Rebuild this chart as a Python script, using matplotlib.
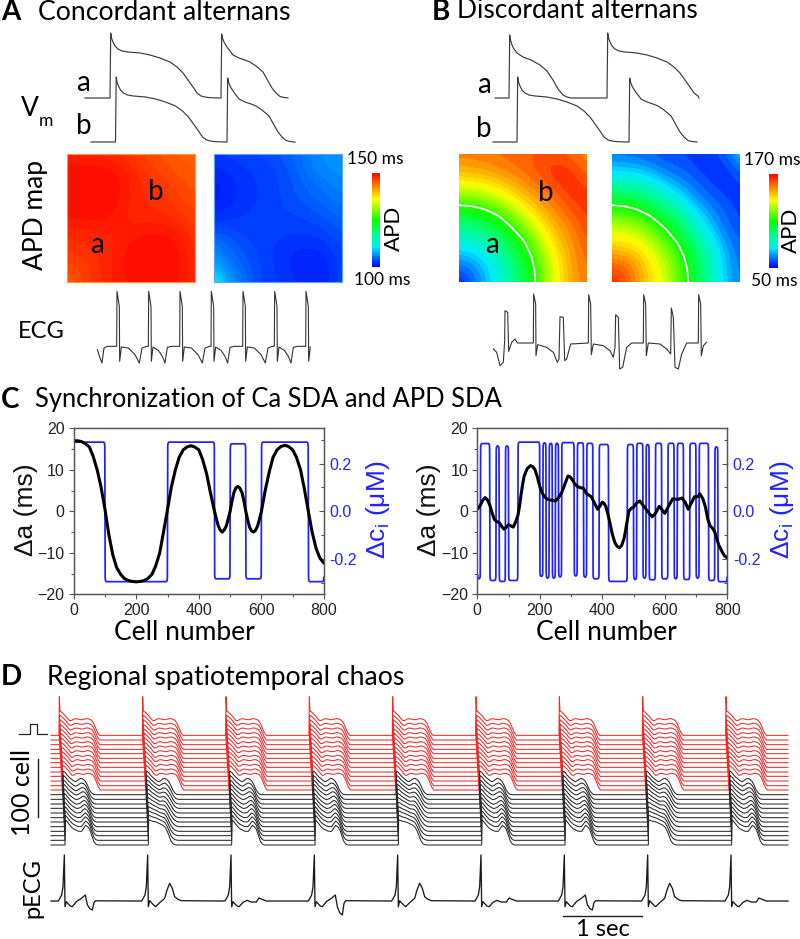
import numpy as np
import matplotlib
matplotlib.use("Agg")
import matplotlib.pyplot as plt
from matplotlib.colors import LinearSegmentedColormap, Normalize, BoundaryNorm
from matplotlib.cm import ScalarMappable
from matplotlib.ticker import FixedLocator

W, H = 800, 939
TITLE_FONT = ['Lato', 'DejaVu Sans']
ARIAL = ['Liberation Sans', 'DejaVu Sans']
plt.rcParams['font.family'] = TITLE_FONT
plt.rcParams['mathtext.default'] = 'regular'

# ---------- data: action potentials (time, height) ----------
AP_LONG_T = [0, 0.7, 1.5, 3, 5, 8, 12, 18, 30, 40, 50, 60, 67, 73, 78, 83, 87, 91, 95, 100, 110]
AP_LONG_V = [0, 65, 60, 56, 52, 49, 47, 46, 45, 43, 40, 36, 31, 25, 18, 11, 5, 2, 1, 0.3, 0]
AP_SHORT_T = [0, 0.7, 1.5, 3, 6, 9, 12, 18, 24, 29, 35, 42, 47, 51, 55, 59, 63, 67]
AP_SHORT_V = [0, 64, 60, 56, 51, 47, 43, 40, 38, 36, 32, 26, 17, 10, 5, 1.5, 0.5, 0]
AP_SHORTER_T = [0, 0.7, 1.5, 3, 5, 8, 14, 22, 31, 38, 44, 49, 54, 58, 62]
AP_SHORTER_V = [0, 63, 58, 53, 49, 45, 41, 38, 33, 27, 18, 9, 3, 1, 0]

# ---------- data: ECG panel A ----------
ECG_A_ONSETS = [350, 445, 539, 633, 728, 823, 917]
ECG_A_LEAD_T = [292, 300, 306, 312, 322]
ECG_A_LEAD_V = [-10, -35, -50, -5, 0]
ECG_A_QRS_T = [0, 1, 8, 9, 14]
ECG_A_QRS_V = [0, 165, 120, -45, -2]
ECG_A_TW1_T = [35, 55, 68, 76, 90]
ECG_A_TW1_V = [-5, -25, -50, -5, 0]
ECG_A_TW2_T = [30, 42, 50, 57, 70]
ECG_A_TW2_V = [-12, -30, -50, -3, 0]

# ---------- data: ECG panel B ----------
ECG_B_T = [280, 290, 300, 310, 314, 315, 323, 326, 335, 345, 352, 400, 401, 407, 408, 413, 440, 460, 472,
           477, 480, 490, 494, 500, 512, 565, 566, 572, 574, 580, 610, 630, 640, 645, 647, 655, 659, 668,
           680, 695, 730, 731, 737, 739, 745, 780, 800, 812, 814, 820, 825, 835, 845, 860, 895, 896, 902,
           904, 910, 920]
ECG_B_V = [1045, 1055, 1095, 1085, 1020, 930, 935, 1052, 1025, 1015, 1027, 1027, 880, 910, 1065, 1032,
           1040, 1055, 1085, 1075, 948, 950, 1080, 1075, 1030, 1027, 882, 910, 1062, 1030, 1035, 1050,
           1070, 1040, 942, 950, 1105, 1100, 1040, 1027, 1027, 882, 910, 1065, 1027, 1030, 1045, 1060,
           922, 950, 1100, 1105, 1060, 1027, 1027, 882, 910, 1065, 1035, 1025]

# ---------- data: APD maps (rows bottom to top) ----------
MAP_A_LONG = [
    [145.5, 147, 148, 149, 149.5, 149.5, 149.5, 149.5, 148],
    [146.5, 147, 148, 149, 149.8, 150, 150, 149.7, 148],
    [147.5, 148, 148.3, 148.8, 149.8, 150, 150, 149.6, 147.7],
    [148.3, 148.3, 148.5, 148.7, 149, 149.5, 149.5, 149, 147.5],
    [149.5, 149.6, 149.6, 149.2, 148.5, 148.5, 148.3, 147.8, 147],
    [150, 150, 150, 149.7, 148.5, 148, 147.8, 147, 146.5],
    [150, 150, 150, 149.8, 148.7, 148, 147.3, 146.5, 146],
    [149.8, 149.8, 149.8, 149.5, 148.5, 147.3, 146.5, 146, 145.5],
    [148.7, 148.7, 148.5, 148, 147.5, 146.5, 146, 145.5, 145]]
MAP_A_SHORT = [
    [112, 107, 104.5, 103, 102.5, 102, 101.5, 101.5, 103],
    [108, 105.5, 104, 103, 102.3, 101.6, 101.2, 101.4, 103],
    [106, 104.5, 103.5, 102.8, 102.3, 101.8, 101.7, 102, 103.2],
    [104, 103.5, 103, 102.8, 102.6, 102.5, 102.5, 102.8, 103.8],
    [102, 102.3, 102.6, 102.8, 103, 103, 103.3, 103.8, 104.5],
    [101, 101.7, 102.2, 102.6, 103, 103.5, 104, 104.7, 105.3],
    [100.8, 101.6, 102.2, 102.6, 103, 103.8, 104.7, 105.3, 106],
    [101.5, 102, 102.4, 102.7, 103.2, 104, 105.5, 106.3, 106.5],
    [102.5, 102.7, 103, 103.2, 103.7, 104.5, 105.7, 106.5, 106.8]]
MAP_B_LEFT = [
    [52, 60, 68, 78, 88, 100, 114, 128, 141, 151, 156],
    [60, 63, 70, 80, 89, 101, 115, 129, 142, 152, 157],
    [68, 70, 76, 84, 94, 105, 118, 132, 143, 153, 158],
    [78, 80, 84, 90, 100, 111, 124, 136, 147, 154, 160],
    [88, 89, 94, 100, 110, 120, 131, 142, 150, 156, 162],
    [100, 101, 105, 111, 120, 129, 139, 148, 154, 159, 164],
    [114, 115, 118, 124, 131, 139, 147, 153, 158, 163, 165],
    [128, 129, 132, 136, 142, 148, 153, 157, 162, 166, 164],
    [141, 142, 143, 147, 150, 154, 158, 162, 166, 165, 161],
    [150, 151, 152, 154, 156, 158, 161, 164, 165, 162, 157],
    [155, 155, 156, 157, 158, 159, 160, 161, 160, 158, 154]]
MAP_B_RIGHT = [
    [166, 162, 152, 142, 134, 122, 110, 96, 82, 70, 62],
    [162, 160, 151, 141, 133, 121, 109, 95, 81, 69, 62],
    [152, 151, 146, 138, 129, 118, 106, 92, 80, 68, 61],
    [142, 141, 138, 131, 122, 112, 101, 88, 76, 65, 60],
    [134, 133, 129, 122, 114, 103, 92, 80, 70, 62, 58],
    [122, 121, 118, 112, 103, 96, 85, 74, 65, 60, 56],
    [110, 109, 106, 101, 92, 85, 75, 66, 62, 58, 55],
    [96, 95, 92, 88, 80, 74, 66, 62, 58, 55, 55],
    [82, 81, 80, 76, 70, 65, 62, 58, 55, 54, 58],
    [70, 69, 68, 65, 62, 60, 58, 55, 54, 56, 62],
    [62, 62, 61, 60, 58, 57, 56, 55, 56, 60, 72]]
MAP_A_RANGE = (100, 150)
MAP_B_RANGE = (50, 170)
ARC_LEFT = 114
ARC_RIGHT = 110

# ---------- data: panel C ----------
C_LEFT_CELL = [0, 12, 25, 37, 50, 62, 75, 87, 100, 112, 125, 137, 150, 162, 175, 187, 200, 212, 225, 237, 250,
               262, 275, 287, 300, 312, 325, 337, 350, 362, 375, 387, 400, 412, 425, 437, 450, 456, 462, 468,
               475, 481, 488, 494, 500, 506, 512, 518, 525, 531, 538, 544, 550, 556, 562, 568, 575, 581, 588,
               594, 600, 612, 625, 637, 650, 662, 675, 687, 700, 712, 725, 737, 750, 762, 775, 787, 800]
C_LEFT_DA = [17, 17, 16.8, 16.3, 15.5, 13.3, 10, 6, 0.5, -5.5, -10.5, -13.5, -15.2, -16.2, -16.7, -16.9, -17, -16.9,
             -16.7, -16.2, -15.2, -13.2, -10, -5, 0.5, 5.8, 10, 13, 14.8, 15.5, 15.8, 15.5, 14.8, 12.5, 9, 4.5, 0,
             -1.8, -3.5, -4.5, -5, -4.5, -3.5, -1.8, 0, 2.5, 4.5, 5.6, 6, 5.6, 4.5, 2.5, 0, -2, -3.8, -4.7, -5,
             -4.6, -3.5, -1.8, 0, 5, 9.5, 13, 14.8, 15.6, 15.9, 15.6, 14.8, 13, 10, 5.5, 0, -5, -9, -11.3, -12.5]
C_LEFT_EDGES = [0, 100, 300, 450, 500, 550, 600, 750, 800]
C_LEFT_LEVELS = [.29, -.295, .29, -.283, .283, -.283, .29, -.295]

C_RIGHT_CELL = [0, 5, 10, 17, 25, 32, 40, 47, 55, 62, 70, 77, 85, 92, 100, 107, 115, 122, 130, 135, 140, 145, 150,
                160, 170, 177, 185, 192, 200, 207, 215, 225, 235, 250, 260, 270, 280, 290, 297, 305, 312, 320,
                330, 340, 350, 357, 365, 375, 385, 392, 400, 406, 412, 418, 425, 432, 440, 447, 455, 462, 470,
                477, 485, 492, 500, 510, 520, 530, 540, 550, 560, 570, 582, 590, 600, 612, 625, 632, 640, 647,
                655, 665, 675, 685, 695, 705, 712, 722, 730, 738, 745, 752, 760, 772, 785, 792, 800]
C_RIGHT_DA = [0.5, 1, 1.5, 2.6, 3.3, 2.8, 1.5, -0.3, -2, -2.5, -2.7, -3.5, -4.3, -3.9, -3.2, -3.5, -3.8, -2.7, -1,
              1.2, 4, 6.5, 8.5, 10.3, 11, 10.8, 10, 8.3, 6, 4.5, 3.5, 2.9, 2.7, 2.5, 3.3, 4.5, 6.5, 8.5, 8.3, 7.5,
              6.6, 6, 5.7, 5.5, 4.2, 3.9, 3.5, 2, 0.5, 1.2, 2.2, 1.9, 1, -0.7, -3, -5.5, -7.5, -8.4, -8.8, -8.2,
              -6.5, -3.5, 0, 0.7, 1, 2, 2.5, 1.5, 0.5, -0.5, -1.3, -0.5, 1.2, 0.5, -0.5, 1.2, 3, 3, 2.8, 3,
              3.2, 2.2, 0.5, 2, 3.5, 3.5, 4.2, 3, 1, -2, -3.5, -4, -5, -8, -10, -10.8, -11.2]
C_RIGHT_EDGES = [0, 10, 40, 60, 70, 90, 100, 130, 200, 210, 220, 230, 240, 250, 260, 270, 310, 320, 340, 350, 370,
                 390, 420, 480, 500, 510, 530, 540, 550, 570, 590, 610, 630, 640, 660, 680, 700, 710, 740, 760,
                 770, 800]
C_RIGHT_LEVELS = [-.283, .284, -.29, .274, -.294, .274, -.29, .29, -.273, .287, -.28, .285, -.28, .285, -.275, .288,
                  -.271, .287, -.276, .285, -.283, .28, -.294, .28, -.286, .285, -.28, .28, -.287, .285, -.283,
                  .285, -.283, .285, -.286, .285, -.28, .285, -.29, .27, -.295]
CELL_TICKS = [0, 200, 400, 600, 800]
CELL_MINOR = [100, 300, 500, 700]
DA_TICKS = [-20, -10, 0, 10, 20]
DA_MINOR = [-15, -5, 5, 15]
CA_TICKS = [-.2, 0, .2]
CA_MINOR = [-.3, -.1, .1, .3]

# ---------- data: panel D ----------
D_ONSETS = [24, 274, 524, 774, 1024, 1274, 1524, 1774, 2024]
D_END = 2211
D_OFFSET = [329, 315, 301, 287, 274, 260, 247, 233, 219, 206, 192, 178, 165,
            151, 137, 123, 110, 96, 82, 69, 55, 41, 28, 14, 0]
D_SHIFT = [0, .8, 1.6, 2.4, 3.2, 4, 4.8, 5.6, 6.4, 7.2, 8, 8.8, 9.6,
           11, 11.7, 12.4, 13, 13.7, 14.4, 15, 15.7, 16.4, 17, 17.7, 18]
RED_COUNT = 13
D_TIME = [0, 1, 3, 8, 14, 20, 26, 32, 38, 44, 50, 56, 62, 68, 74, 80, 86, 92, 98, 104, 110, 116, 122, 128]
D_RED = [0, 75, 73, 70, 64, 58, 50, 44, 45, 49, 50, 49, 47.5, 47, 48, 50, 50, 48, 45, 36, 22, 8, 0, 0]
D_BLACK_TOP = [0, 71, 70, 66, 58, 52, 47, 42, 39, 42, 47, 49, 46, 40, 29, 15, 6, 1, 0, 0, 0, 0, 0, 0]
D_BLACK_LOW_A = [0, 75, 74, 68, 60, 53, 48, 45, 42, 41, 41, 50, 59, 55, 47, 30, 12, 3, 0, 0, 0, 0, 0, 0]
D_BLACK_LOW_B = [0, 75, 75, 73, 71, 70, 68, 65, 62, 59, 54, 43, 28, 12, 4, 1, 0, 0, 0, 0, 0, 0, 0, 0]
D_RED_SCALE = [1, .995, .99, .985, .98, .975, .97, .965, .96, .955, .95, .945, .94]
D_BLACK_MIX = [0, .09, .18, .27, .36, .45, .55, .64, .73, .82, .91, 1]
D_BEAT_KIND = ['A', 'B', 'A', 'A', 'B', 'A', 'A', 'B', 'A']
D_TOP_SPIKE = 116

PECG_ONSETS = [40, 290, 540, 790, 1040, 1290, 1540, 1790, 2040]
PECG_KIND = [1, 2, 3, 1, 2, 3, 1, 2, 3]
PECG_TROUGH = [.64, 1, .64, 1, 1, .72, .64, 1, 1]
PECG1_T = [-18, -8, -4, 0, 2, 6, 18, 24, 36, 51, 63, 69, 76, 84, 89, 94, 101]
PECG1_V = [0, 18, 43, 138, -17, -2, -15, -17, -2, 8, 18, -17, -35, -42, -7, 1, 1]
PECG2_T = [-18, -8, -4, 0, 2, 6, 18, 24, 36, 51, 58, 66, 74, 81, 91, 101]
PECG2_V = [0, 18, 43, 138, -17, 1, -12, -17, -5, 8, 33, 53, 38, 13, 5, 1]
PECG3_T = [-18, -8, -4, 0, 2, 6, 18, 24, 36, 48, 61, 76, 84, 94, 106]
PECG3_V = [0, 18, 43, 138, -17, -2, -15, -17, -4, 2, -3, -3, 9, 5, 0]

# ---------- helpers ----------
fig = plt.figure(figsize=(W / 100, H / 100), dpi=100, facecolor='white')


def px_axes(x0, y0, x1, y1, **kw):
    return fig.add_axes([x0 / W, 1 - y1 / H, (x1 - x0) / W, (y1 - y0) / H], **kw)


def label(x, y, s, size=20, ha='left', va='center', rot=0, color='black', family=None, weight='normal'):
    fig.text(x / W, 1 - y / H, s, fontsize=size, ha=ha, va=va, rotation=rot, color=color,
             family=family or TITLE_FONT, weight=weight)


def trace_axes(x0, x1, ybase, height):
    ax = px_axes(x0, ybase - height, x1, ybase)
    ax.set_xlim(0, x1 - x0)
    ax.set_ylim(0, height)
    ax.axis('off')
    ax.patch.set_alpha(0)
    return ax


def ap_trace(x0, x1, ybase, beats):
    ax = trace_axes(x0, x1, ybase, 70)
    t, v = [0.0], [0.0]
    for onset, bt, bv in beats:
        for a, b in zip(bt, bv):
            if onset + a < x1:
                t.append(onset - x0 + a)
                v.append(b)
    t.append(x1 - x0)
    v.append(0.0)
    ax.plot(t, v, color='#3a3a3a', lw=0.85, clip_on=False)


def apd_map(x0, grid, rng, bands, arc=None, edge=None):
    ax = px_axes(x0, 154, x0 + 128, 282)
    grid = np.array(grid)
    n = grid.shape[0]
    half = 0.5 / (n - 1)
    levels = np.linspace(rng[0], rng[1], bands + 1)
    ax.imshow(grid, origin='lower', extent=(-half, 1 + half, -half, 1 + half), cmap=APD_CMAP,
              norm=BoundaryNorm(levels, APD_CMAP.N, extend='both'), interpolation='bicubic',
              interpolation_stage='data', aspect='auto')
    if arc is not None:
        coords = np.arange(n) / (n - 1)
        ax.contour(coords, coords, grid, levels=[arc], colors='white', linewidths=1.3)
    ax.set_xlim(0, 1)
    ax.set_ylim(0, 1)
    ax.set_xticks([])
    ax.set_yticks([])
    for s in ax.spines.values():
        if edge:
            s.set_color(edge)
            s.set_linewidth(0.8)
        else:
            s.set_visible(False)


def colorbar(x0, y0, x1, y1, rng):
    cax = px_axes(x0, y0, x1, y1)
    cb = fig.colorbar(ScalarMappable(Normalize(*rng), APD_CMAP), cax=cax)
    cb.set_ticks([])
    cb.outline.set_visible(False)


def square_wave(edges, levels):
    xs, ys = [], []
    for a, b, lv in zip(edges[:-1], edges[1:], levels):
        r = 0.94 * lv
        xs += [a + .6, a + 1.5, a + 4, b - 4, b - 1.5, b - .6]
        ys += [r, lv * .985, lv, lv, lv * .985, r]
    return xs, ys


def panel_c(x0, x1, cell, da, edges, levels):
    ax = px_axes(x0, 428.3, x1, 594.3)
    ax2 = ax.twinx()
    ax.set_zorder(ax2.get_zorder() + 1)
    ax.patch.set_visible(False)
    xs, ys = square_wave(edges, levels)
    ax2.plot(xs, ys, color='#1f1fff', lw=1.25, solid_joinstyle='round')
    ax.plot(cell, da, color='black', lw=2.2, solid_joinstyle='round', solid_capstyle='round')
    ax.set_xlim(0, 800)
    ax.set_ylim(-20, 20)
    ax2.set_ylim(-.348, .348)
    ax.set_xticks(CELL_TICKS)
    ax.xaxis.set_minor_locator(FixedLocator(CELL_MINOR))
    ax.set_yticks(DA_TICKS)
    ax.yaxis.set_minor_locator(FixedLocator(DA_MINOR))
    ax2.set_yticks(CA_TICKS)
    ax2.set_yticklabels(['-0.2', '0.0', '0.2'])
    ax2.yaxis.set_minor_locator(FixedLocator(CA_MINOR))
    for a in (ax, ax2):
        for s in a.spines.values():
            s.set_color('#555555')
            s.set_linewidth(0.9)
    ax.tick_params(which='major', length=3.6, width=0.8, color='#555555', labelsize=11.5, pad=3, labelcolor='#222222')
    ax.tick_params(which='minor', length=2, width=0.8, color='#555555')
    ax2.tick_params(which='major', direction='in', length=3.6, width=0.8, color='#555555', labelsize=11.5, pad=4,
                    labelcolor='#2222ff')
    ax2.tick_params(which='minor', direction='in', length=2, width=0.8, color='#555555')
    for t in ax.get_xticklabels() + ax.get_yticklabels() + ax2.get_yticklabels():
        t.set_family(ARIAL)


APD_CMAP = LinearSegmentedColormap.from_list('apd', [
    (0.0, (0.0, 0.0, 1.0)), (0.1, (0.0, 0.42, 1.0)), (0.21, (0.0, 0.92, 1.0)), (0.36, (0.0, 1.0, 0.5)),
    (0.5, (0.05, 1.0, 0.0)), (0.72, (1.0, 1.0, 0.0)), (0.85, (1.0, 0.55, 0.0)), (1.0, (1.0, 0.0, 0.0))])

# ---------- panel A ----------
label(1, 12, 'A', size=20, weight='bold')
label(38, 12, 'Concordant alternans', size=19.2)
ap_trace(85, 288, 98, [(110, AP_LONG_T, AP_LONG_V), (221, AP_SHORT_T, AP_SHORT_V)])
ap_trace(91, 295, 142, [(115.5, AP_LONG_T, AP_LONG_V), (227, AP_SHORT_T, AP_SHORT_V)])
label(83, 83, 'a', size=20, ha='center')
label(84, 126, 'b', size=20, ha='center')
label(21, 109, 'V', size=19)
label(39, 121, 'm', size=12.5)
label(35, 215, 'APD map', size=19, ha='center', rot=90)
apd_map(67, MAP_A_LONG, MAP_A_RANGE, 80, edge='#ff9a30')
apd_map(214, MAP_A_SHORT, MAP_A_RANGE, 80, edge='#5aa0ff')
label(97, 245, 'a', size=20, ha='center')
label(156, 192, 'b', size=20, ha='center')
colorbar(372, 173, 380, 267, MAP_A_RANGE)
label(347, 159, '150 ms', size=12.5)
label(354, 280, '100 ms', size=12.5)
label(394, 228, 'APD', size=16, ha='center', rot=90)
label(18, 331, 'ECG', size=17)

ax = trace_axes(97, 312, 363, 72)
ecg_t = [z for z in ECG_A_LEAD_T]
ecg_v = [z for z in ECG_A_LEAD_V]
for i, on in enumerate(ECG_A_ONSETS):
    ecg_t += [on + a for a in ECG_A_QRS_T]
    ecg_v += ECG_A_QRS_V
    if i < len(ECG_A_ONSETS) - 1:
        tt, tv = (ECG_A_TW1_T, ECG_A_TW1_V) if i % 2 == 0 else (ECG_A_TW2_T, ECG_A_TW2_V)
        ecg_t += [on + a for a in tt]
        ecg_v += tv
ax.plot((np.array(ecg_t) - 291) / 3, (np.array(ecg_v) + 50) / 3, color='#333333', lw=0.8, clip_on=False)

# ---------- panel B ----------
label(432, 12, 'B', size=20, weight='bold')
label(457, 11, 'Discordant alternans', size=19)
ap_trace(495, 699, 98, [(509, AP_SHORTER_T, AP_SHORTER_V), (607, AP_LONG_T, AP_LONG_V)])
ap_trace(493, 697, 142, [(517, AP_LONG_T, AP_LONG_V), (629, AP_SHORT_T, AP_SHORT_V)])
label(484, 85, 'a', size=20, ha='center')
label(484, 129, 'b', size=20, ha='center')
apd_map(458.5, MAP_B_LEFT, MAP_B_RANGE, 36, ARC_LEFT)
apd_map(611.5, MAP_B_RIGHT, MAP_B_RANGE, 36, ARC_RIGHT)
label(491.5, 245, 'a', size=20, ha='center')
label(546, 193, 'b', size=20, ha='center')
colorbar(769.3, 174, 778, 268, MAP_B_RANGE)
label(744, 160, '170 ms', size=12.5)
label(751, 281, '50 ms', size=12.5)
label(791, 230, 'APD', size=16, ha='center', rot=90)

ax = trace_axes(493, 708, 369, 78)
ax.plot((np.array(ECG_B_T) - 279) / 3, (1105 - np.array(ECG_B_V)) / 3, color='#333333', lw=0.8, clip_on=False)

# ---------- panel C ----------
label(1, 400, 'C', size=20, weight='bold')
label(35, 400, 'Synchronization of Ca SDA and APD SDA', size=18.4)
panel_c(73.7, 324, C_LEFT_CELL, C_LEFT_DA, C_LEFT_EDGES, C_LEFT_LEVELS)
panel_c(477.3, 727.3, C_RIGHT_CELL, C_RIGHT_DA, C_RIGHT_EDGES, C_RIGHT_LEVELS)
for xl, xr, xc in ((26, 378, 184), (429, 782, 606)):
    label(xl, 510, 'Δa (ms)', size=19, ha='center', rot=90, family=ARIAL, color='#111111')
    label(xr, 510, 'Δc$_{i}$ (μM)', size=19, ha='center', rot=90, family=ARIAL, color='#2222ff')
    label(xc, 633, 'Cell number', size=19, ha='center')

# ---------- panel D ----------
label(1, 677, 'D', size=20, weight='bold')
label(47, 677, 'Regional spatiotemporal chaos', size=19.2)
ax = px_axes(51, 696.7, 788, 845)
ax.set_xlim(0, D_END)
ax.set_ylim(0, 445)
ax.axis('off')
for k, (off, sh) in enumerate(zip(D_OFFSET, D_SHIFT)):
    is_red = k < RED_COUNT
    t, v = [0.0], [0.0]
    for on, kind in zip(D_ONSETS, D_BEAT_KIND):
        if is_red:
            shape = list(D_RED)
            if k == 0:
                shape[1] = D_TOP_SPIKE
            st = [a * D_RED_SCALE[k] for a in D_TIME]
        else:
            w = D_BLACK_MIX[k - RED_COUNT]
            low = D_BLACK_LOW_A if kind == 'A' else D_BLACK_LOW_B
            shape = [(1 - w) * a + w * b for a, b in zip(D_BLACK_TOP, low)]
            st = D_TIME
        t += [on + sh + a for a in st]
        v += shape
    t.append(D_END)
    v.append(0.0)
    ax.plot(t, np.array(v) + off, color='#ee2a2a' if is_red else '#2a2a2a', lw=0.75, clip_on=False)

ax = px_axes(51, 851, 788, 917.7)
ax.set_xlim(0, D_END)
ax.set_ylim(-50, 150)
ax.axis('off')
t, v = [0.0], [0.0]
for on, kind, tr in zip(PECG_ONSETS, PECG_KIND, PECG_TROUGH):
    if kind == 1:
        t += [on + a for a in PECG1_T]
        v += [b * tr if a > 66 else b for a, b in zip(PECG1_T, PECG1_V)]
    elif kind == 2:
        t += [on + a for a in PECG2_T]
        v += PECG2_V
    else:
        t += [on + a for a in PECG3_T]
        v += PECG3_V
t.append(D_END)
v.append(0.0)
ax.plot(t, v, color='#1a1a1a', lw=0.95, clip_on=False)

# annotation furniture on a figure-sized canvas
canvas = px_axes(0, 0, W, H)
canvas.set_xlim(0, W)
canvas.set_ylim(H, 0)
canvas.axis('off')
canvas.patch.set_alpha(0)
canvas.plot([18.5, 29.5, 29.5, 36.5, 36.5, 46.5], [734, 734, 723.5, 723.5, 734, 734], color='#222222', lw=0.9)
canvas.plot([37.7, 37.7], [759, 816.7], color='#222222', lw=1.0)
canvas.plot([562.7, 641.7], [915.7, 915.7], color='#222222', lw=1.0)
label(22, 792, '100 cell', size=18, ha='center', rot=90)
label(33, 888, 'pECG', size=17, ha='center', rot=90)
label(603, 929, '1 sec', size=17, ha='center')

fig.savefig('out.png', dpi=100)
